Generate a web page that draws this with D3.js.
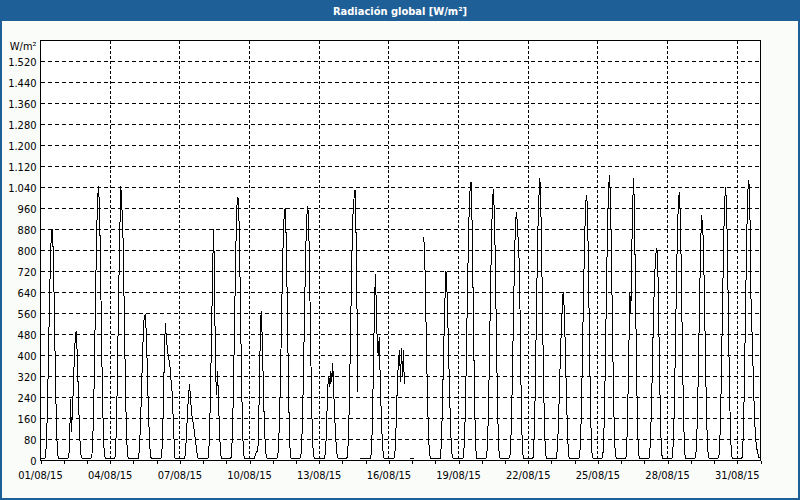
<!DOCTYPE html>
<html>
<head>
<meta charset="utf-8">
<script src="https://cdn.jsdelivr.net/npm/d3@7"></script>
<style>
  html, body { margin: 0; padding: 0; background: #ffffff; }
  svg { display: block; }
  text { font-family: "DejaVu Sans Condensed", "DejaVu Sans", sans-serif; }
</style>
</head>
<body>
<svg id="chart" width="800" height="500"></svg>
<script>
// ---------------- DATA (hourly values, W/m², h0..h23; null = no data) ----------------
const title = "Radiación global [W/m²]";
const unitLabel = "W/m²";
const startDay = "2015-08-01";
const endDay = "2015-09-01";

const aug01 = [8,8,8,8,8,12,60,175,350,545,720,845,880,810,635,415,220,80,18,8,8,8,8,8];
const aug02 = [8,8,8,8,8,10,50,236,110,190,280,400,470,495,400,270,150,60,15,8,8,8,8,8];
const aug03 = [8,8,8,8,8,12,75,210,420,650,860,1000,1045,960,750,490,260,95,20,8,8,8,8,8];
const aug04 = [8,8,8,8,8,12,80,230,450,680,880,1045,970,900,700,460,240,85,18,8,8,8,8,8];
const aug05 = [8,8,8,8,8,8,35,110,220,345,460,540,556,510,400,260,140,50,12,8,8,8,8,8];
const aug06 = [8,8,8,8,8,10,70,220,400,522,470,430,400,380,350,300,260,170,80,10,8,8,8,8];
const aug07 = [8,8,8,8,8,8,40,110,190,250,290,240,185,160,140,110,80,50,20,8,8,8,8,8];
const aug08 = [8,8,8,8,8,8,40,150,330,540,757,880,600,330,250,340,220,110,30,8,8,8,8,8];
const aug09 = [8,8,8,8,8,12,75,210,410,630,830,970,1005,940,740,490,260,95,20,8,8,8,8,8];
const aug10 = [8,8,8,8,8,8,20,33,34,60,250,450,570,480,330,180,80,25,10,8,8,8,8,8];
const aug11 = [8,8,8,8,8,10,55,160,320,520,720,870,950,960,830,600,350,140,30,8,8,8,8,8];
const aug12 = [8,8,8,8,8,12,70,200,390,600,790,920,970,930,730,480,250,90,20,8,8,8,8,8];
const aug13 = [8,8,8,8,8,8,20,70,180,290,320,280,340,300,370,260,170,90,35,10,8,8,8,8];
const aug14 = [8,8,8,8,8,12,70,200,400,620,820,950,1000,1030,880,600,262,null,8,8,8,8,8,8];
const aug15 = [8,8,8,8,8,8,30,150,350,560,710,600,440,400,470,320,190,90,30,8,8,8,8,8];
const aug16 = [8,8,8,8,8,8,15,80,200,320,380,420,300,430,320,420,290,null,null,null,null,null,8,8];
const aug17 = [8,8,8,null,null,null,null,null,null,null,null,null,850,790,600,400,220,90,25,8,8,8,8,8];
const aug18 = [8,8,8,8,8,8,50,160,320,480,620,722,650,520,370,220,100,30,10,8,8,8,8,8];
const aug19 = [8,8,8,8,8,12,65,190,380,600,800,960,1040,1062,900,640,370,150,35,8,8,8,8,8];
const aug20 = [8,8,8,8,8,12,75,210,420,640,840,980,1036,940,760,500,270,100,22,8,8,8,8,8];
const aug21 = [8,8,8,8,8,12,70,200,400,610,800,920,945,880,815,725,420,170,40,8,8,8,8,8];
const aug22 = [8,8,8,8,8,12,80,230,450,680,880,1000,1078,970,760,500,270,100,22,8,8,8,8,8];
const aug23 = [8,8,8,8,8,8,40,120,240,370,480,570,640,590,470,320,180,70,15,8,8,8,8,8];
const aug24 = [8,8,8,8,8,12,70,200,400,610,800,940,1013,980,790,530,280,100,22,8,8,8,8,8];
const aug25 = [8,8,8,8,8,12,80,230,450,690,900,1040,1087,990,780,520,280,100,22,8,8,8,8,8];
const aug26 = [8,8,8,8,8,12,80,230,430,640,560,800,990,1077,880,600,330,120,25,8,8,8,8,8];
const aug27 = [8,8,8,8,8,10,55,160,310,480,630,730,790,808,720,500,280,100,22,8,8,8,8,8];
const aug28 = [8,8,8,8,8,12,75,210,420,640,840,970,1024,950,760,500,270,100,22,8,8,8,8,8];
const aug29 = [8,8,8,8,8,12,70,200,390,600,790,935,900,830,640,420,220,80,18,8,8,8,8,8];
const aug30 = [8,8,8,8,8,12,75,210,420,640,850,990,1040,960,760,500,270,100,22,8,8,8,8,8];
const aug31 = [8,8,8,8,8,12,80,230,450,680,890,1030,1068,970,640,520,395,260,150,80,50,30,15,8];

const dailyValues = [aug01,aug02,aug03,aug04,aug05,aug06,aug07,aug08,aug09,aug10,
  aug11,aug12,aug13,aug14,aug15,aug16,aug17,aug18,aug19,aug20,aug21,aug22,aug23,
  aug24,aug25,aug26,aug27,aug28,aug29,aug30,aug31];

const yTicks = [0,80,160,240,320,400,480,560,640,720,800,880,960,1040,1120,1200,1280,1360,1440,1520];
const xTickDates = ["2015-08-01","2015-08-04","2015-08-07","2015-08-10","2015-08-13","2015-08-16",
  "2015-08-19","2015-08-22","2015-08-25","2015-08-28","2015-08-31"];
const xTickLabels = ["01/08/15","04/08/15","07/08/15","10/08/15","13/08/15","16/08/15",
  "19/08/15","22/08/15","25/08/15","28/08/15","31/08/15"];
const yMax = 1600;

// ---------------- BUILD SERIES ----------------
const parse = d3.utcParse("%Y-%m-%d");
const t0 = parse(startDay), t1 = parse(endDay);
const series = [];
dailyValues.forEach((arr, d) => {
  arr.forEach((v, h) => {
    series.push({ t: d3.utcHour.offset(d3.utcDay.offset(t0, d), h), v: v });
  });
});

// ---------------- DRAW ----------------
const W = 800, H = 500;
const svg = d3.select("#chart");
const plot = { left: 40.5, right: 760.5, top: 40.5, bottom: 460.5 };

const frameBlue = "#1f5f97";
svg.append("rect").attr("x", 0).attr("y", 0).attr("width", W).attr("height", H).attr("fill", frameBlue);
svg.append("rect").attr("x", 2).attr("y", 21).attr("width", W - 4).attr("height", H - 23).attr("fill", "#fafcfa");
svg.append("text").attr("x", W / 2).attr("y", 14.5).attr("text-anchor", "middle")
  .attr("fill", "#ffffff").attr("font-size", "11px").attr("font-weight", "bold").text(title);

const x = d3.scaleUtc().domain([t0, t1]).range([plot.left, plot.right]);
const y = d3.scaleLinear().domain([0, yMax]).range([plot.bottom, plot.top]);

svg.append("rect").attr("x", plot.left).attr("y", plot.top)
  .attr("width", plot.right - plot.left).attr("height", plot.bottom - plot.top).attr("fill", "#ffffff");

const crisp = v => Math.round(v - 0.5) + 0.5;

svg.append("g").selectAll("line").data(yTicks.filter(v => v > 0)).join("line")
  .attr("x1", plot.left).attr("x2", plot.right)
  .attr("y1", d => crisp(y(d))).attr("y2", d => crisp(y(d)))
  .attr("stroke", "#000").attr("stroke-width", 1).attr("stroke-dasharray", "4,3")
  .attr("shape-rendering", "crispEdges");

const xTicks = xTickDates.map(parse);
svg.append("g").selectAll("line").data(xTicks.slice(1)).join("line")
  .attr("x1", d => crisp(x(d))).attr("x2", d => crisp(x(d)))
  .attr("y1", plot.top).attr("y2", plot.bottom)
  .attr("stroke", "#000").attr("stroke-width", 1).attr("stroke-dasharray", "3,2")
  .attr("shape-rendering", "crispEdges");

const line = d3.line()
  .defined(d => d.v !== null)
  .x(d => x(d.t))
  .y(d => y(d.v));
svg.append("path").datum(series)
  .attr("d", line).attr("fill", "none").attr("stroke", "#000").attr("stroke-width", 1)
  .attr("shape-rendering", "crispEdges");

svg.append("rect").attr("x", plot.left).attr("y", plot.top)
  .attr("width", plot.right - plot.left).attr("height", plot.bottom - plot.top)
  .attr("fill", "none").attr("stroke", "#000").attr("shape-rendering", "crispEdges");

const xAxis = d3.axisBottom(x).ticks(d3.utcDay.every(1)).tickSize(3).tickFormat("");
const gx = svg.append("g").attr("transform", `translate(0,${plot.bottom})`).call(xAxis);
gx.select(".domain").remove();
gx.selectAll("line").attr("stroke", "#000").attr("shape-rendering", "crispEdges");

svg.append("g").selectAll("text").data(xTicks).join("text")
  .attr("x", d => x(d)).attr("y", 479).attr("text-anchor", "middle")
  .attr("font-size", "11px").attr("fill", "#000")
  .text((d, i) => xTickLabels[i]);

const fmt = d3.formatLocale({ decimal: ",", thousands: ".", grouping: [3], currency: ["", "€"] }).format(",d");
svg.append("g").selectAll("text").data(yTicks).join("text")
  .attr("x", 36.5).attr("y", d => y(d) + 4).attr("text-anchor", "end")
  .attr("font-size", "11px").attr("fill", "#000")
  .text(d => fmt(d));

svg.append("text").attr("x", 36.5).attr("y", 49.5).attr("text-anchor", "end")
  .attr("font-size", "11px").attr("fill", "#000").text(unitLabel);
</script>
</body>
</html>
